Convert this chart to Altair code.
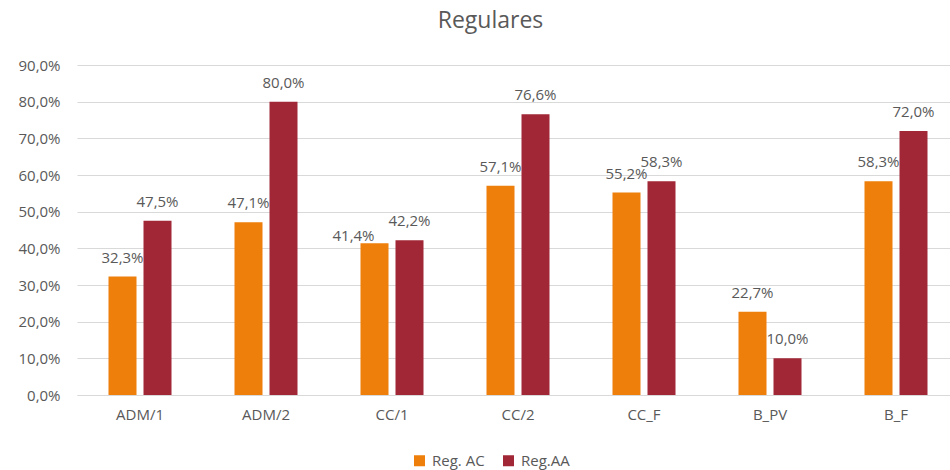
import altair as alt
import pandas as pd

# Categories and series values (percent)
categories = ["ADM/1", "ADM/2", "CC/1", "CC/2", "CC_F", "B_PV", "B_F"]
series = ["Reg. AC", "Reg.AA"]
reg_ac = [32.3, 47.1, 41.4, 57.1, 55.2, 22.7, 58.3]
reg_aa = [47.5, 80.0, 42.2, 76.6, 58.3, 10.0, 72.0]
colors = ["#EE7F0A", "#A12636"]
y_ticks = [0.0, 0.1, 0.2, 0.3, 0.4, 0.5, 0.6, 0.7, 0.8, 0.9]

rows = []
for i, cat in enumerate(categories):
    for name, vals in zip(series, [reg_ac, reg_aa]):
        v = vals[i]
        rows.append({
            "cat": cat,
            "serie": name,
            "valor": v / 100,
            "etiqueta": f"{v:.1f}%".replace(".", ","),
        })
df = pd.DataFrame(rows)

FONT = "Open Sans"
GREY = "#595959"
LIGHT = "#D9D9D9"

x_enc = alt.X(
    "cat:N",
    sort=categories,
    scale=alt.Scale(range=[0, 882], paddingInner=0.5, paddingOuter=0.25),
    axis=alt.Axis(
        title=None, labelAngle=0, ticks=False, domainColor=LIGHT,
        labelPadding=12, labelFontSize=15, labelColor=GREY, labelFont=FONT,
    ),
)
off_enc = alt.XOffset("serie:N", sort=series, scale=alt.Scale(paddingInner=0.2))
y_enc = alt.Y(
    "valor:Q",
    scale=alt.Scale(domain=[0, 0.9], nice=False),
    axis=alt.Axis(
        title=None, values=y_ticks, domain=False, ticks=False,
        labelExpr="replace(format(datum.value, '.1%'), '.', ',')",
        labelPadding=17, labelFontSize=15, labelColor=GREY, labelFont=FONT,
        gridColor=LIGHT, gridWidth=1,
    ),
)

base = alt.Chart(df)

bars = base.mark_bar().encode(
    x=x_enc,
    xOffset=off_enc,
    y=y_enc,
    color=alt.Color(
        "serie:N",
        sort=series,
        scale=alt.Scale(domain=series, range=colors),
        legend=alt.Legend(
            title=None, orient="none", legendX=335, legendY=388,
            direction="horizontal", symbolType="square", symbolSize=121,
            symbolStrokeWidth=0, labelFontSize=15, labelColor=GREY,
            labelFont=FONT, labelOffset=5, columnPadding=16,
        ),
    ),
)

# Value labels above the bars; the crowded CC/1 orange label sits lower and to the left
crowded = (alt.datum.cat == "CC/1") & (alt.datum.serie == "Reg. AC")

labels = base.transform_filter(~crowded).mark_text(
    dy=-19, baseline="middle", fontSize=15, color=GREY, font=FONT
).encode(
    x=x_enc,
    xOffset=off_enc,
    y=y_enc,
    text="etiqueta:N",
)

labels_shifted = base.transform_filter(crowded).mark_text(
    dy=-7, dx=-21, baseline="middle", fontSize=15, color=GREY, font=FONT
).encode(
    x=x_enc,
    xOffset=off_enc,
    y=y_enc,
    text="etiqueta:N",
)

chart = (
    alt.layer(bars, labels, labels_shifted)
    .properties(
        width=873,
        height=330,
        title=alt.Title(
            "Regulares", fontSize=23, color=GREY, font=FONT,
            fontWeight="normal", dx=-23, offset=7, baseline="alphabetic",
            frame="group",
        ),
        autosize=alt.AutoSizeParams(type="none"),
        padding={"left": 77, "top": 65, "right": 0, "bottom": 75},
    )
    .configure(font=FONT)
    .configure_view(stroke=None)
)

chart.save("out.html", embed_options={"renderer": "svg", "actions": False})
